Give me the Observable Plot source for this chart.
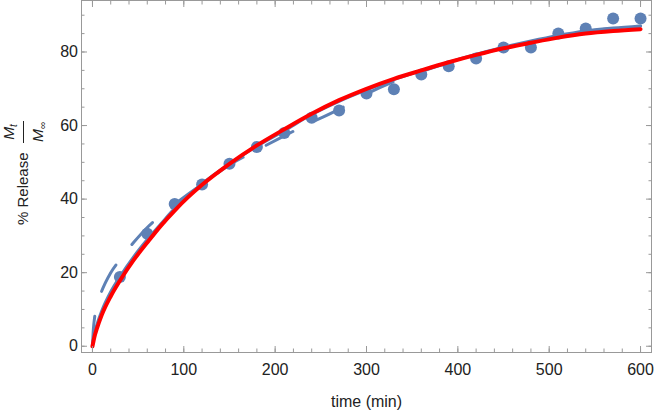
<!DOCTYPE html>
<html><head><meta charset="utf-8">
<script src="https://cdn.jsdelivr.net/npm/d3@7"></script>
<script src="https://cdn.jsdelivr.net/npm/@observablehq/plot@0.6"></script>
<style>
body{margin:0;background:#fff;}
#chart{width:654px;height:414px;}
</style></head>
<body><div id="chart"></div>
<script>
// measured release data (time in min, % release)
const timePoints = [30,60,90,120,150,180,210,240,270,300,330,360,390,420,450,480,510,540,570,600];
const releasePoints = [18.8,30.6,38.7,44.0,49.6,54.2,58.0,62.1,64.1,68.7,69.9,73.9,76.1,78.2,81.2,81.2,85.0,86.4,89.1,89.1];

// red fitted curve
const redT = [0,2,5,10,20,30,45,60,75,90,105,120,150,180,210,240,270,300,330,360,390,420,450,480,510,540,570,600];
const redY = [0,2.4,4.9,8.4,13.6,17.8,23.4,28.2,32.8,36.9,40.6,43.9,49.6,54.6,59.0,63.2,66.9,70.0,72.7,75.0,77.2,79.2,81.0,82.5,83.9,85.0,85.7,86.2];

// blue solid fitted curve
const blueT = [0,2,5,10,20,30,45,60,75,90,105,120,150,180,210,240,270,300,330,360,390,420,450,480,510,540,570,600];
const blueY = [0,3.2,6.0,9.5,14.8,18.9,24.3,29.0,33.3,37.5,41.0,44.2,49.6,54.4,58.6,63.0,66.6,69.7,72.5,74.9,77.2,79.4,81.3,83.0,84.5,85.7,86.5,87.1];

// blue dashed fitted curve
const dashT = [0,1,2.5,5,10,20,30,45,60,75,90,105,120,150,180,210,240,270,300,330,360,390,420,450,480,510,540,570,600];
const dashY = [0,4.6,8.1,11.2,14.9,20.0,23.5,28.2,32.3,35.6,38.6,41.4,44.0,49.3,53.3,57.2,60.9,64.4,68.6,72.0,74.7,77.1,79.2,81.1,82.8,84.3,85.6,86.4,87.0];

// ticks
const xTickValues = [0,100,200,300,400,500,600];
const xTickLabels = ["0","100","200","300","400","500","600"];
const yTickValues = [0,20,40,60,80];
const yTickLabels = ["0","20","40","60","80"];
const xMinorTicks = [0,20,40,60,80,100,120,140,160,180,200,220,240,260,280,300,320,340,360,380,400,420,440,460,480,500,520,540,560,580,600];
const yMinorTicks = [0,5,10,15,20,25,30,35,40,45,50,55,60,65,70,75,80,85,90];

const xLabel = "time (min)";
const yLabelText = "% Release";

const pts = timePoints.map((t, i) => ({t, v: releasePoints[i]}));
const red = redT.map((t, i) => ({t, v: redY[i]}));
const blue = blueT.map((t, i) => ({t, v: blueY[i]}));
const dash = dashT.map((t, i) => ({t, v: dashY[i]}));

const frameColor = "#999999";
const textColor = "#222222";
const pointColor = "#5E81B5";
const font = "'Liberation Sans', Arial, sans-serif";

const tickAxes = [];
for (const [vals, len] of [[xTickValues, 6], [xMinorTicks, 3.5]]) {
  tickAxes.push(Plot.axisX(vals, {anchor: "bottom", tickSize: len, dy: -len, fill: "none", stroke: frameColor, label: null}));
  tickAxes.push(Plot.axisX(vals, {anchor: "top", tickSize: len, dy: len, fill: "none", stroke: frameColor, label: null}));
}
for (const [vals, len] of [[yTickValues, 6], [yMinorTicks, 3.5]]) {
  tickAxes.push(Plot.axisY(vals, {anchor: "left", tickSize: len, dx: len, fill: "none", stroke: frameColor, label: null}));
  tickAxes.push(Plot.axisY(vals, {anchor: "right", tickSize: len, dx: -len, fill: "none", stroke: frameColor, label: null}));
}

const plot = Plot.plot({
  width: 654, height: 414,
  marginLeft: 81, marginRight: 3, marginTop: 0, marginBottom: 62,
  x: {domain: [-12, 612]},
  y: {domain: [-1.7, 94]},
  style: {fontFamily: font, background: "white", color: textColor},
  marks: [
    Plot.dot(pts, {x: "t", y: "v", r: 6, fill: pointColor}),
    Plot.line(blue, {x: "t", y: "v", stroke: pointColor, strokeWidth: 3, curve: "monotone-x"}),
    Plot.line(dash, {x: "t", y: "v", stroke: pointColor, strokeWidth: 3, strokeDasharray: "30,26", curve: "monotone-x"}),
    Plot.line(red, {x: "t", y: "v", stroke: "#FF0000", strokeWidth: 4, curve: "monotone-x"}),
    Plot.frame({stroke: frameColor}),
    ...tickAxes,
    Plot.axisX(xTickValues, {anchor: "bottom", tickSize: 0, tickPadding: 11.6, fontSize: 16, fill: textColor, label: null,
      tickFormat: d => xTickLabels[xTickValues.indexOf(d)]}),
    Plot.axisY(yTickValues, {anchor: "left", tickSize: 0, tickPadding: 3.5, fontSize: 16, fill: textColor, label: null,
      tickFormat: d => yTickLabels[yTickValues.indexOf(d)]}),
    Plot.text([xLabel], {text: d => d, frameAnchor: "bottom", dy: 49, lineAnchor: "middle", fontSize: 16, fill: textColor})
  ]
});

document.getElementById("chart").appendChild(plot);

// rotated y label with fraction M_t / M_inf
const svg = d3.select(plot);
const g = svg.append("g")
  .attr("transform", "translate(0,225) rotate(-90)")
  .attr("fill", textColor)
  .attr("font-family", font);
g.append("text").attr("x", 0).attr("y", 28).attr("text-anchor", "start").attr("font-size", 15).text(yLabelText);
const fx = 93;
const num = g.append("text").attr("x", fx).attr("y", 14).attr("text-anchor", "middle").attr("font-size", 15.5);
num.append("tspan").attr("font-style", "italic").text("M");
num.append("tspan").attr("font-size", 10).attr("font-style", "italic").attr("dy", 3).text("t");
g.append("line").attr("x1", fx - 11).attr("x2", fx + 11).attr("y1", 23.5).attr("y2", 23.5)
  .attr("stroke", textColor).attr("stroke-width", 1);
const den = g.append("text").attr("x", fx).attr("y", 42.5).attr("text-anchor", "middle").attr("font-size", 15.5);
den.append("tspan").attr("font-style", "italic").text("M");
den.append("tspan").attr("font-size", 10).attr("dy", 3).text("∞");
</script>
</body></html>
